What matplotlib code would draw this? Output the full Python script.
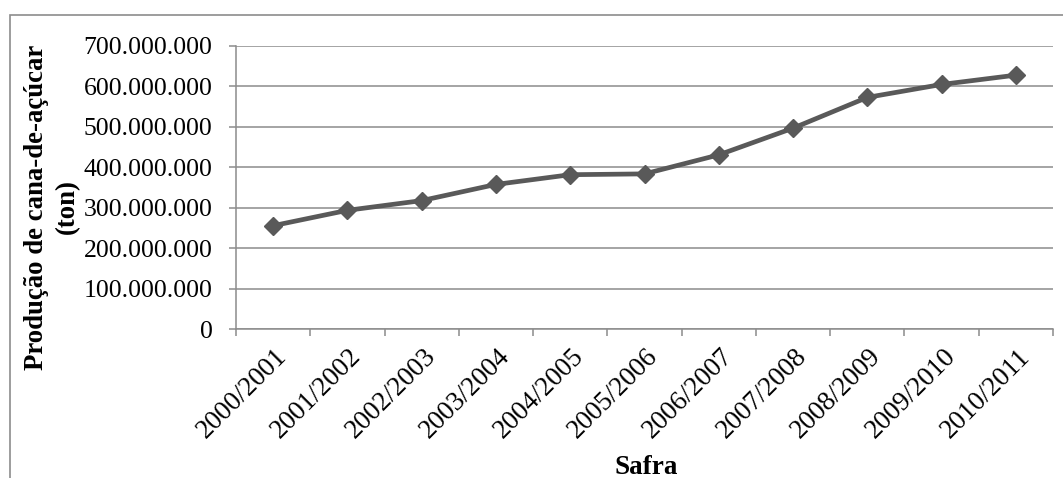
import numpy as np
import matplotlib
matplotlib.use("Agg")
import matplotlib.pyplot as plt
import matplotlib.transforms as mtransforms
from matplotlib.patches import Rectangle
from matplotlib.ticker import FuncFormatter

plt.rcParams["font.family"] = ["Liberation Serif", "DejaVu Serif"]

# Produção de cana-de-açúcar por safra (toneladas)
safras = ["2000/2001", "2001/2002", "2002/2003", "2003/2004", "2004/2005", "2005/2006",
          "2006/2007", "2007/2008", "2008/2009", "2009/2010", "2010/2011"]
producao = [256e6, 294e6, 318e6, 358e6, 382e6, 384e6, 431e6, 497e6, 573e6, 605e6, 628e6]
y_ticks = np.arange(0, 700e6 + 1, 100e6)

line_color = "#595959"
grid_color = "#8c8c8c"

fig = plt.figure(figsize=(10.63, 4.78), dpi=100)
ax = fig.add_axes([236 / 1063, 1 - 329.3 / 478, (1053 - 236) / 1063, (329.3 - 46) / 478])

# chart frame, cut off at right and bottom
fig.patches.append(Rectangle((10 / 1063, -0.1), 1.2, 0.9686 + 0.1, transform=fig.transFigure,
                             fill=False, edgecolor=grid_color, linewidth=1.2, zorder=0))

x = np.arange(len(safras))
ax.plot(x, producao, color=line_color, linewidth=3.4, marker="D", markersize=9.5,
        markerfacecolor=line_color, markeredgecolor=line_color, zorder=3)

ax.set_xlim(-0.5, len(safras) - 0.5)
ax.set_ylim(0, 700e6)
ax.set_yticks(y_ticks)
ax.yaxis.set_major_formatter(FuncFormatter(lambda v, p: f"{int(v):,}".replace(",", ".")))
ax.grid(axis="y", color=grid_color, linewidth=1.1)
ax.set_axisbelow(True)

# category labels at centers, tick marks at boundaries
ax.set_xticks(x)
ax.set_xticklabels(safras, rotation=45, ha="right", va="center", rotation_mode="anchor")
ax.set_xticks(np.arange(-0.5, len(safras)), minor=True)
ax.tick_params(axis="x", which="major", length=0, pad=17, labelsize=19.5)
ax.tick_params(axis="x", which="minor", length=5, width=1.1, color=grid_color, direction="out")
ax.tick_params(axis="y", length=5, width=1.1, color=grid_color, pad=12, labelsize=18.5)
offset = mtransforms.ScaledTranslation(10 / 100, 0, fig.dpi_scale_trans)
for lab in ax.get_xticklabels():
    lab.set_transform(lab.get_transform() + offset)

for side in ["top", "right"]:
    ax.spines[side].set_visible(False)
for side in ["left", "bottom"]:
    ax.spines[side].set_color(grid_color)
    ax.spines[side].set_linewidth(1.1)

fig.text(52 / 1063, 1 - 207 / 478, "Produção de cana-de-açúcar\n(ton)", rotation=90,
         ha="center", va="center", fontsize=19.3, fontweight="bold", linespacing=1.3)
fig.text(646 / 1063, 1 - 467 / 478, "Safra", ha="center", va="center",
         fontsize=19.5, fontweight="bold")

fig.savefig("out.png", dpi=100, facecolor="white")
